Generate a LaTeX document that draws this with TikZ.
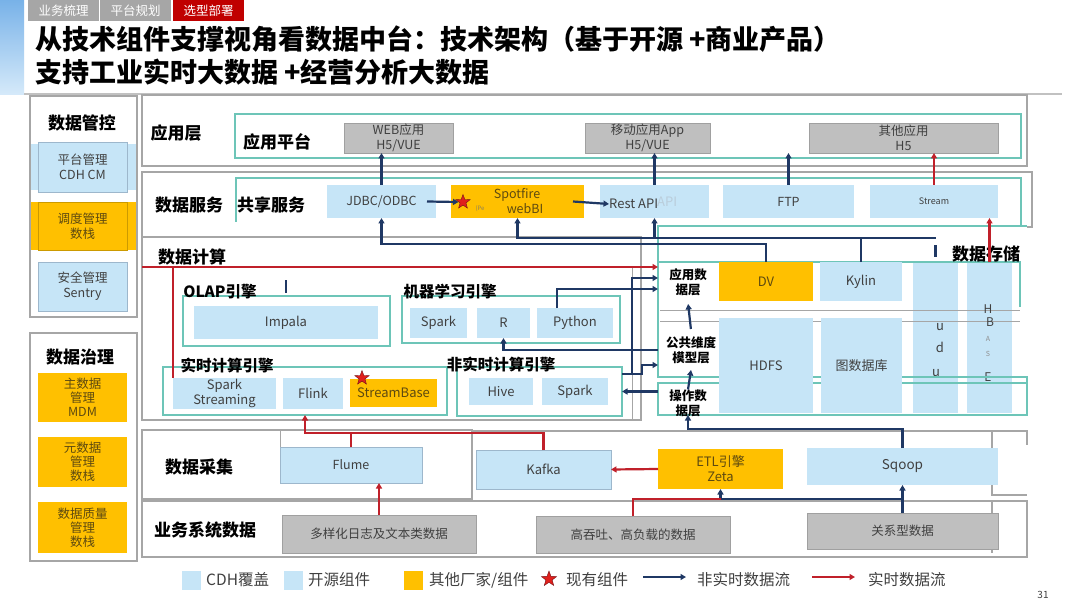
\documentclass[tikz,border=0pt]{standalone}
\usepackage{fontspec}
\setmainfont{Noto Sans CJK SC}
\usetikzlibrary{arrows.meta,shapes.geometric,calc}
\definecolor{txt}{HTML}{404040}
\definecolor{lbc}{HTML}{C6E5F7}
\definecolor{lbd}{HTML}{9DB7CC}
\definecolor{ogc}{HTML}{FFC000}
\definecolor{ogt}{HTML}{5E4A10}
\definecolor{gbc}{HTML}{BFBFBF}
\definecolor{gbd}{HTML}{A0A0A0}
\definecolor{tealc}{HTML}{6DC5B8}
\definecolor{framec}{HTML}{A6A6A6}
\definecolor{navyc}{HTML}{1F3864}
\definecolor{redc}{HTML}{C0202A}
\definecolor{starc}{HTML}{E0201C}
\definecolor{tabg}{HTML}{A6A6A6}
\definecolor{tabr}{HTML}{C00000}
\newcommand\fs[2]{\fontsize{#1pt}{#2pt}\selectfont}
\newcommand\bx[7]{\node[#1,anchor=north west,minimum width={(#5-#3)*1pt},minimum height={(#6-#4)*1pt}] (#2) at (#3,#4) {#7};}
\begin{document}
\begin{tikzpicture}[x=1pt,y=-1pt,
  base/.style={inner sep=0pt,outer sep=0pt,align=center,text=txt,font=\fs{12.5}{15}},
  lbx/.style={base,fill=lbc},
  lbb/.style={base,fill=lbc,draw=lbd,line width=0.8pt},
  ogx/.style={base,fill=ogc,text=ogt},
  gbx/.style={base,fill=gbc,draw=gbd,line width=0.8pt},
  tbx/.style={inner sep=0pt,outer sep=0pt,draw=tealc,line width=1.3pt},
  frx/.style={inner sep=0pt,outer sep=0pt,draw=framec,line width=1.3pt},
  layx/.style={inner sep=0pt,outer sep=0pt,align=center,font=\bfseries\fs{12.5}{15}},
  lab/.style={inner sep=0pt,font=\bfseries\fs{17}{20}},
  sublab/.style={inner sep=0pt,font=\bfseries\fs{15.5}{18}},
  tabx/.style={inner sep=0pt,outer sep=0pt,text=white,font=\fs{12.5}{15}},
  nv/.style={draw=navyc,line width=2.2pt,-{Triangle[length=5.5pt,width=6pt]}},
  nvl/.style={draw=navyc,line width=2.2pt},
  rda/.style={draw=redc,line width=2.2pt,-{Triangle[length=5.5pt,width=6pt]}},
  rdl/.style={draw=redc,line width=2.2pt},
  stardot/.style={star,star points=5,star point ratio=2.4,minimum size=15pt,inner sep=0pt,fill=starc,draw=redc!60!black,line width=0.4pt},
  legsq/.style={inner sep=0pt,minimum size=19pt},
  legt/.style={inner sep=0pt,anchor=west,text=txt,font=\fs{15.5}{18}}
]
\useasboundingbox (0,0) rectangle (1080,607);
\fill[white] (0,0) rectangle (1080,607);
% header
\fill[top color={rgb,255:red,120;green,178;blue,232},bottom color={rgb,255:red,214;green,234;blue,250}] (0,0) rectangle (24,95);
\bx{tabx,fill=tabg}{t1}{28}{0}{99}{21}{业务梳理}
\bx{tabx,fill=tabg}{t2}{100}{0}{171}{21}{平台规划}
\bx{tabx,fill=tabr}{t3}{173}{0}{244}{21}{选型部署}
\node[anchor=west,inner sep=0pt,font=\bfseries\fs{27}{32}] (ti1) at (35,39) {从技术组件支撑视角看数据中台：技术架构（基于开源 +商业产品）};
\node[anchor=west,inner sep=0pt,font=\bfseries\fs{27}{32}] (ti2) at (35,72) {支持工业实时大数据 +经营分析大数据};
\draw[framec!70,line width=1.5pt] (24,94) -- (1062,94);

% left panels
\bx{frx}{pl1}{30}{96}{137}{317}{}
\node[lab] (pl1t) at (82,123) {数据管控};
\fill[lbc] (31,144) rectangle (136,190);
\bx{lbb}{cdh}{38}{142}{127}{192}{平台管理\\CDH CM}
\fill[ogc] (31,202) rectangle (136,250);
\bx{ogx,draw=ogc!80!black,line width=0.6pt}{sched}{38}{202}{127}{250}{调度管理\\数栈}
\bx{lbb}{sec}{38}{262}{127}{311}{安全管理\\Sentry}
\bx{frx}{pl2}{30}{333}{137}{561}{}
\node[lab] (pl2t) at (80,357) {数据治理};
\bx{ogx,font=\fs{12.5}{14}}{mdm}{38}{373}{127}{422}{主数据\\管理\\MDM}
\bx{ogx,font=\fs{12.5}{14}}{meta}{38}{437}{127}{487}{元数据\\管理\\数栈}
\bx{ogx,font=\fs{12.5}{14}}{qual}{38}{502}{127}{553}{数据质量\\管理\\数栈}

% application layer
\bx{frx}{fapp}{142}{95}{1027}{166}{}
\node[lab] (fappt) at (176,133) {应用层};
\bx{tbx}{tapp}{235}{114}{1021}{158}{}
\node[lab] (tappt) at (277,142) {应用平台};
\bx{gbx}{web}{344}{123}{453}{153}{WEB应用\\H5/VUE}
\bx{gbx}{app}{585}{123}{710}{153}{移动应用App\\H5/VUE}
\bx{gbx}{other}{809}{123}{998}{153}{其他应用\\H5}

% data service layer
\draw[framec,line width=1.3pt] (142,237) -- (142,172) -- (1032,172) -- (1032,227) -- (1027,227);
\node[lab] (fsvt) at (189,205) {数据服务};
\draw[tealc,line width=1.3pt] (236,222) -- (236,178) -- (1021,178) -- (1021,226) -- (1027,226);
\node[lab] (tsvt) at (271,205) {共享服务};
\bx{lbx}{jdbc}{327}{185}{436}{218}{JDBC/ODBC}
\bx{ogx,font=\fs{12}{14}}{spot}{451}{185}{584}{218}{}
\node[inner sep=0pt,text=ogt,font=\fs{12.5}{15}] (spott1) at (517,195) {Spotfire};
\node[inner sep=0pt,text=ogt,font=\fs{12.5}{15}] (spott2) at (525,209) {webBI};
\node[inner sep=0pt,text=ogt!70,font=\fs{6}{7}] (spott3) at (480,209) {(Pe};
\node[stardot] (spotstar) at (463,202) {};
\bx{lbx}{rest}{600}{185}{709}{218}{}
\node[inner sep=0pt,anchor=west,text=txt,font=\fs{13}{15}] (restt) at (609,204) {Rest API};
\node[inner sep=0pt,anchor=west,text=lbd!70,font=\fs{13}{15}] (restg) at (657,202) {API};
\bx{lbx}{ftp}{723}{185}{854}{218}{FTP}
\bx{lbx,font=\fs{9}{11}}{stream}{870}{185}{998}{218}{Stream}

% compute layer
\bx{frx}{calc}{142}{237}{641}{420}{}
\draw[framec,line width=0.8pt] (632,268) -- (632,420);
\node[lab] (calct) at (192,257) {数据计算};
\bx{tbx}{olap}{183}{296}{390}{346}{}
\node[sublab] (olapt) at (220,292) {OLAP引擎};
\bx{lbx,font=\fs{13}{15}}{impala}{194}{306}{378}{339}{Impala}
\bx{tbx}{ml}{402}{296}{620}{343}{}
\node[sublab] (mlt) at (450,292) {机器学习引擎};
\bx{lbx,font=\fs{13}{15}}{sparka}{410}{308}{467}{338}{Spark}
\bx{lbx,font=\fs{13}{15}}{r}{477}{308}{530}{338}{R}
\bx{lbx,font=\fs{13}{15}}{py}{537}{308}{613}{338}{Python}
\bx{tbx}{rt}{163}{367}{447}{415}{}
\node[sublab] (rtt) at (227,366) {实时计算引擎};
\bx{lbx,font=\fs{13}{14.5}}{ss}{173}{378}{276}{409}{Spark\\Streaming}
\bx{lbx,font=\fs{13}{15}}{flink}{283}{378}{343}{409}{Flink}
\bx{ogx,font=\fs{13}{15}}{sb}{350}{379}{437}{407}{StreamBase}
\node[stardot] (sbstar) at (362,378) {};
\bx{tbx}{nrt}{457}{367}{622}{416}{}
\node[sublab] (nrtt) at (501,365) {非实时计算引擎};
\bx{lbx,font=\fs{13}{15}}{hive}{469}{378}{533}{405}{Hive}
\bx{lbx,font=\fs{13}{15}}{sparkb}{542}{378}{608}{405}{Spark}
\draw[navyc,line width=2pt] (286,280) -- (286,293);

% storage
\bx{lbx}{udu}{913}{262}{958}{413}{}
\bx{lbx}{hbase}{967}{262}{1012}{413}{}
\draw[framec,line width=1pt] (660,310) -- (1020,310) (660,321) -- (1020,321);
\node[text=txt,font=\fs{13}{15}] (u1) at (940,327) {u};
\node[text=txt,font=\fs{13}{15}] (d1) at (940,347) {d};
\node[text=txt,font=\fs{13}{15}] (u2) at (936,373) {u};
\node[text=txt,font=\fs{12}{14}] (h1) at (988,309) {H};
\node[text=txt,font=\fs{12}{14}] (h2) at (990,322) {B};
\node[text=txt!60,font=\fs{7}{8}] (h3) at (988,339) {A};
\node[text=txt!60,font=\fs{7}{8}] (h4) at (988,354) {S};
\node[text=txt,font=\fs{12}{14}] (h5) at (988,377) {E};
\draw[tealc,line width=1.3pt] (658,378) -- (658,226) -- (1021,226);
\draw[tealc,line width=1.3pt] (658,262) -- (1020,262) -- (1020,307);
\draw[tealc,line width=1.3pt] (658,377) -- (1027,377) -- (1027,390);
\bx{tbx}{ods}{658}{383}{1027}{415}{}
\node[lab] (storet) at (986,254) {数据存储};
\bx{ogx,font=\fs{13}{15}}{dv}{719}{262}{813}{301}{DV}
\bx{lbx,font=\fs{13}{15}}{kylin}{820}{262}{902}{301}{Kylin}
\bx{lbx,font=\fs{13}{15}}{hdfs}{719}{318}{813}{413}{HDFS}
\bx{lbx,font=\fs{13}{15}}{graph}{821}{318}{902}{413}{图数据库}
\bx{layx}{appl}{658}{262}{718}{303}{应用数\\据层}
\bx{layx}{dim}{658}{330}{724}{370}{公共维度\\模型层}
\node[layx] (odst) at (688,403) {操作数\\据层};

% collection layer
\bx{frx}{fcol}{142}{430}{472}{499}{}
\draw[framec,line width=1.3pt] (472,431) -- (1027,431) -- (1027,445);
\draw[framec,line width=1.3pt] (992,431) -- (992,495) -- (1027,495);
\draw[framec,line width=1pt] (280,431) -- (280,447);
\node[lab] (fcolt) at (199,467) {数据采集};
\bx{lbb}{flume}{280}{447}{422}{483}{Flume}
\bx{lbb,font=\fs{13}{15}}{kafka}{476}{450}{611}{489}{Kafka}
\bx{ogx,font=\fs{13}{15}}{etl}{658}{449}{783}{489}{ETL引擎\\Zeta}
\bx{lbx,font=\fs{13.5}{15}}{sqoop}{807}{448}{998}{485}{Sqoop}

% business data layer
\bx{frx}{fbiz}{142}{501}{1027}{557}{}
\draw[framec,line width=1.3pt] (992,501) -- (992,553);
\node[lab] (fbizt) at (205,530) {业务系统数据};
\bx{gbx}{log}{282}{515}{476}{553}{多样化日志及文本类数据}
\bx{gbx}{high}{536}{516}{730}{553}{高吞吐、高负载的数据}
\bx{gbx}{rel}{807}{513}{998}{549}{关系型数据}

% connectors: service
\draw[nv] (jdbc.north) -- (jdbc.north |- web.south);
\draw[nv] (rest.north) -- (rest.north |- app.south);
\draw[nv] (ftp.north) -- (ftp.north |- other.south);
\draw[rda] (stream.north) -- (stream.north |- other.south);
\draw[nv] ([xshift=-9pt]jdbc.east) -- (spotstar.west);
\draw[nv] ([xshift=-11pt]spot.east) -- (restt.west);
\draw[nv] (dv.north) -- ++(0,-18) -| (jdbc.south);
\coordinate (kj) at ($(kylin.north)+(0,-24)$);
\draw[nv] (kylin.north) -- (kj) -| (spot.south);
\draw[nv] (kj -| rest.south) -- (rest.south);
\draw[nvl] (kj) -- (kj -| udu.north);
\draw[nvl] ([yshift=17pt]udu.north) -- ([yshift=5pt]udu.north);
\draw[rda] (hbase.north) -- (hbase.north |- stream.south);
% connectors: compute <-> storage
\coordinate (rs) at ($(calc.north west)+(0,30)$);
\draw[rda] (rs) -- (rs -| appl.west);
\draw[rdl] (rs -| ss.north west) -- (ss.north west);
\draw[nv] ([xshift=-18pt]py.north) |- ([yshift=-6.5pt]appl.west);
\coordinate (j1) at ($(nrt.north east)+(10,7)$);
\draw[nv] (nrt.east |- j1) -- (j1) |- ([yshift=4.5pt]appl.west);
\draw[nv] (j1) -- ++(10,0) |- ([yshift=-15pt]dim.west);
\draw[nv] (dim.west) -| (r.south);
\draw[nv] (nrt.east -| ods.west) -- (nrt.east);
\draw[nv,shorten <=1pt,shorten >=1pt] (dim.north) -- (appl.south);
\draw[nv] (odst.north) -- (dim.south);
\draw[nv] (sqoop.north) -- ++(0,-19) -| (ods.south -| odst);
% connectors: collection / sources
\draw[nv] (rel.north) -- (sqoop.south);
\coordinate (m) at ($(rel.north)!0.5!(sqoop.south)$);
\draw[nv] (m) -| (etl.south);
\draw[rdl] (high.north) |- (m -| etl.south);
\draw[rda] (etl.west) -- (kafka.east);
\coordinate (kk) at ($(kafka.north)+(0,-17)$);
\draw[rdl] (flume.north) -- (flume.north |- kk);
\draw[rda] (kafka.north) -- (kk) -| (rt.south);
\draw[rda] (log.north) -- (log.north |- flume.south);

% legend
\node[legsq,fill=lbc] (lg1) at (191.5,580.5) {};
\node[legt] (lg1t) at (206,580) {CDH覆盖};
\node[legsq,fill=lbc] (lg2) at (293,580.5) {};
\node[legt] (lg2t) at (308,580) {开源组件};
\node[legsq,fill=ogc] (lg3) at (413.5,580.5) {};
\node[legt] (lg3t) at (429,580) {其他厂家/组件};
\node[stardot,minimum size=16pt] (lg4) at (549,579) {};
\node[legt] (lg4t) at (566,580) {现有组件};
\coordinate (la1) at (643,577);
\coordinate (la2) at (686,577);
\draw[nv,line width=1.8pt] (la1) -- (la2);
\node[legt] (lg5t) at (697,580) {非实时数据流};
\coordinate (lb1) at (812,577);
\coordinate (lb2) at (855,577);
\draw[rda,line width=1.8pt] (lb1) -- (lb2);
\node[legt] (lg6t) at (868,580) {实时数据流};
\node[inner sep=0pt,text=txt,font=\fs{10}{12}] (pg) at (1043,595) {31};
\end{tikzpicture}
\end{document}
